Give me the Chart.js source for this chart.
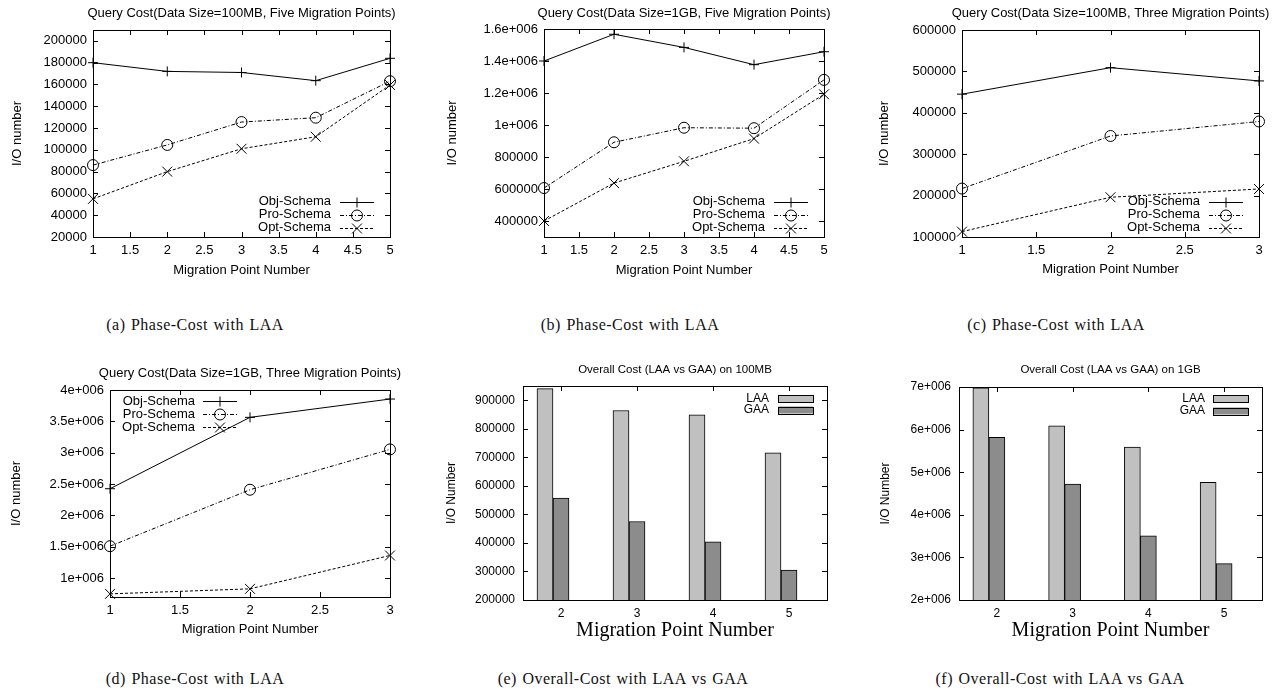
<!DOCTYPE html>
<html>
<head>
<meta charset="utf-8">
<script src="https://cdn.jsdelivr.net/npm/chart.js@4.4.1/dist/chart.umd.min.js"></script>
<style>
  body { margin: 0; background: #fff; width: 1278px; height: 700px; position: relative; overflow: hidden; }
  canvas { position: absolute; }
  .cap { position: absolute; font-family: "Liberation Serif", "DejaVu Serif", serif; font-size: 16px; letter-spacing: 0.5px; word-spacing: 1px; color: #111; white-space: nowrap; transform: translate(-50%, -50%); }
</style>
</head>
<body>
<canvas id="cA" width="426" height="300" style="left:0;top:0"></canvas>
<canvas id="cB" width="426" height="300" style="left:426px;top:0"></canvas>
<canvas id="cC" width="426" height="300" style="left:852px;top:0"></canvas>
<canvas id="cD" width="426" height="310" style="left:0;top:340px"></canvas>
<canvas id="cE" width="426" height="310" style="left:426px;top:340px"></canvas>
<canvas id="cF" width="426" height="310" style="left:852px;top:340px"></canvas>

<div class="cap" style="left:195px;top:325px">(a) Phase-Cost with LAA</div>
<div class="cap" style="left:630px;top:325px">(b) Phase-Cost with LAA</div>
<div class="cap" style="left:1056px;top:325px">(c) Phase-Cost with LAA</div>
<div class="cap" style="left:195px;top:679px">(d) Phase-Cost with LAA</div>
<div class="cap" style="left:623px;top:679px">(e) Overall-Cost with LAA vs GAA</div>
<div class="cap" style="left:1060px;top:679px">(f) Overall-Cost with LAA vs GAA</div>

<script>
// migration points on the x axis
const xFive = [1, 2, 3, 4, 5];
const xThree = [1, 2, 3];
const xTicksFive = [1, 1.5, 2, 2.5, 3, 3.5, 4, 4.5, 5];
const xTicksThree = [1, 1.5, 2, 2.5, 3];

// (a) 100MB, five points
const objA = [180000, 172000, 171000, 163500, 184000];
const proA = [86000, 104500, 125500, 129500, 163000];
const optA = [55000, 80000, 101000, 112000, 159500];
const yTicksA = [20000, 40000, 60000, 80000, 100000, 120000, 140000, 160000, 180000, 200000];

// (b) 1GB, five points
const objB = [1400000, 1567000, 1485000, 1377000, 1458000];
const proB = [606000, 892000, 983000, 980000, 1282000];
const optB = [400000, 637000, 773000, 915000, 1192000];
const yTicksB = [400000, 600000, 800000, 1000000, 1200000, 1400000, 1600000];

// (c) 100MB, three points
const objC = [445000, 509000, 477000];
const proC = [217000, 344000, 379000];
const optC = [113000, 196000, 216000];
const yTicksC = [100000, 200000, 300000, 400000, 500000, 600000];

// (d) 1GB, three points
const objD = [2426000, 3564000, 3856000];
const proD = [1510000, 2410000, 3053000];
const optD = [750000, 830000, 1362000];
const yTicksD = [1000000, 1500000, 2000000, 2500000, 3000000, 3500000, 4000000];

// (e), (f) overall cost
const migPoints = ['2', '3', '4', '5'];
const laa100 = [941000, 864000, 849000, 716000];
const gaa100 = [557000, 475000, 404000, 305000];
const yTicksE = [200000, 300000, 400000, 500000, 600000, 700000, 800000, 900000];
const laa1g = [6980000, 6090000, 5590000, 4760000];
const gaa1g = [5820000, 4720000, 3505000, 2855000];
const yTicksF = [2000000, 3000000, 4000000, 5000000, 6000000, 7000000];

const SANS = '"Liberation Sans", Arial, sans-serif';
const SERIF = '"Liberation Serif", "Times New Roman", serif';

// gnuplot style %g labels: 1.6e+006
function gfmt(v) {
  if (Math.abs(v) >= 1e6) {
    const e = Math.floor(Math.log10(Math.abs(v)));
    const m = +(v / Math.pow(10, e)).toPrecision(6);
    return m + 'e+' + String(e).padStart(3, '0');
  }
  return String(v);
}

const pts = (xs, ys) => xs.map((x, i) => ({ x: x, y: ys[i] }));

// frame, inward ticks, title and gnuplot-like legend
const gp = {
  id: 'gp',
  beforeDatasetsDraw(chart) {
    const { ctx, chartArea: a, scales } = chart;
    ctx.save();
    ctx.strokeStyle = '#000';
    ctx.lineWidth = 1;
    ctx.beginPath();
    const t = 5;
    scales.y.ticks.forEach(tk => {
      const y = Math.round(scales.y.getPixelForValue(tk.value)) + 0.5;
      ctx.moveTo(a.left, y); ctx.lineTo(a.left + t, y);
      ctx.moveTo(a.right, y); ctx.lineTo(a.right - t, y);
    });
    scales.x.ticks.forEach((tk, i) => {
      const x = Math.round(scales.x.getPixelForTick(i)) + 0.5;
      ctx.moveTo(x, a.bottom); ctx.lineTo(x, a.bottom - t);
      ctx.moveTo(x, a.top); ctx.lineTo(x, a.top + t);
    });
    ctx.stroke();
    ctx.strokeRect(Math.round(a.left) + 0.5, Math.round(a.top) + 0.5,
      Math.round(a.right - a.left), Math.round(a.bottom - a.top));
    ctx.restore();
  },
  afterDraw(chart, args, o) {
    const { ctx, chartArea: a } = chart;
    ctx.save();
    ctx.fillStyle = '#000';
    ctx.font = o.titleSize + 'px ' + SANS;
    ctx.textAlign = 'center';
    ctx.textBaseline = 'middle';
    ctx.fillText(o.title, (a.left + a.right) / 2, o.titleY);

    const L = o.legend;
    ctx.font = L.size + 'px ' + SANS;
    chart.data.datasets.filter(ds => ds.label).forEach((ds, i) => {
      const y = (L.fromBottom ? a.bottom : a.top) + L.y0 + i * L.dy;
      const base = L.fromLeft ? a.left : a.right;
      const tx = base + L.textX, x0 = base + L.x0, x1 = base + L.x1;
      ctx.fillStyle = '#000';
      ctx.textAlign = 'right';
      ctx.fillText(ds.label, tx, y);
      ctx.strokeStyle = '#000';
      ctx.lineWidth = 1;
      if (L.kind === 'box') {
        ctx.fillStyle = ds.backgroundColor;
        ctx.fillRect(x0, y - 3.5, x1 - x0, 7);
        ctx.strokeRect(x0 + 0.5, Math.round(y - 3.5) + 0.5, x1 - x0, 7);
      } else {
        ctx.setLineDash(ds.borderDash || []);
        ctx.beginPath();
        ctx.moveTo(x0, Math.round(y) + 0.5);
        ctx.lineTo(x1, Math.round(y) + 0.5);
        ctx.stroke();
        ctx.setLineDash([]);
        ctx.fillStyle = 'rgba(0,0,0,0)';
        Chart.helpers.drawPoint(ctx, { pointStyle: ds.pointStyle, radius: ds.pointRadius, rotation: 0, borderWidth: 1 },
          (x0 + x1) / 2, Math.round(y) + 0.5);
      }
    });
    ctx.restore();
  }
};

// place chart area at exact spot inside its canvas
function layoutFor(box, area) {
  return {
    padding: { left: 0, top: area.t - box.top, right: box.left + box.w - area.r, bottom: 0 },
    yWidth: area.l - box.left,
    xHeight: box.top + box.h - area.b
  };
}

function lineSeries(xs, obj, pro, opt) {
  return [
    { label: 'Obj-Schema', data: pts(xs, obj), pointStyle: 'cross', pointRadius: 5, borderDash: [] },
    { label: 'Pro-Schema', data: pts(xs, pro), pointStyle: 'circle', pointRadius: 5.5, borderDash: [4, 2, 1, 2] },
    { label: 'Opt-Schema', data: pts(xs, opt), pointStyle: 'crossRot', pointRadius: 7, borderDash: [3, 2] }
  ].map(d => Object.assign(d, {
    borderColor: '#000', borderWidth: 1, pointBorderColor: '#000', pointBorderWidth: 1,
    pointBackgroundColor: 'rgba(0,0,0,0)', tension: 0, clip: false
  }));
}

function makeLine(id, box, area, cfg) {
  const lay = layoutFor(box, area);
  new Chart(document.getElementById(id), {
    type: 'line',
    data: { datasets: lineSeries(cfg.xs, cfg.obj, cfg.pro, cfg.opt) },
    options: {
      responsive: false, animation: false, devicePixelRatio: 1,
      layout: { padding: lay.padding },
      plugins: {
        legend: { display: false }, tooltip: { enabled: false },
        gp: { title: cfg.title, titleY: cfg.titleY, titleSize: 13, legend: cfg.legend }
      },
      scales: {
        x: {
          type: 'linear', min: cfg.xs[0], max: cfg.xs[cfg.xs.length - 1],
          afterBuildTicks: s => { s.ticks = cfg.xTicks.map(v => ({ value: v })); },
          afterFit: s => { s.height = lay.xHeight; },
          ticks: { callback: v => String(v), color: '#000', font: { family: SANS, size: 13 }, padding: 6, maxRotation: 0 },
          grid: { display: false, drawTicks: false, tickLength: 0 },
          border: { display: false },
          title: { display: true, text: 'Migration Point Number', color: '#000', font: { family: SANS, size: 13 }, padding: { top: 0, bottom: cfg.xTitlePad } }
        },
        y: {
          min: cfg.yMin, max: cfg.yMax,
          afterBuildTicks: s => { s.ticks = cfg.yTicks.map(v => ({ value: v })); },
          afterFit: s => { s.width = lay.yWidth; },
          ticks: { callback: v => gfmt(v), color: '#000', font: { family: SANS, size: 13 }, padding: 6 },
          grid: { display: false, drawTicks: false, tickLength: 0 },
          border: { display: false },
          title: { display: true, text: 'I/O number', color: '#000', font: { family: SANS, size: 13 }, padding: { top: cfg.yTitlePad, bottom: 0 } }
        }
      }
    },
    plugins: [gp]
  });
}

function makeBar(id, box, area, cfg) {
  const lay = layoutFor(box, area);
  new Chart(document.getElementById(id), {
    type: 'bar',
    data: {
      labels: migPoints,
      datasets: [
        { label: 'LAA', data: cfg.laa, backgroundColor: '#c0c0c0' },
        { label: 'GAA', data: cfg.gaa, backgroundColor: '#8c8c8c' },
        // empty third slot: gnuplot leaves a gap so GAA sits on the tick
        { label: '', data: migPoints.map(() => null), backgroundColor: 'rgba(0,0,0,0)' }
      ].map(d => Object.assign(d, { borderColor: '#000', borderWidth: 1, borderSkipped: false, barThickness: 16 }))
    },
    options: {
      responsive: false, animation: false, devicePixelRatio: 1,
      layout: { padding: lay.padding },
      plugins: {
        legend: { display: false }, tooltip: { enabled: false },
        gp: { title: cfg.title, titleY: cfg.titleY, titleSize: 11.5, legend: cfg.legend }
      },
      scales: {
        x: {
          afterFit: s => { s.height = lay.xHeight; },
          ticks: { color: '#000', font: { family: SANS, size: 12 }, padding: 6 },
          grid: { display: false, drawTicks: false, tickLength: 0 },
          border: { display: false },
          title: { display: true, text: 'Migration Point Number', color: '#000', font: { family: SERIF, size: 20 }, padding: { top: 0, bottom: 7 } }
        },
        y: {
          min: cfg.yMin, max: cfg.yMax,
          afterBuildTicks: s => { s.ticks = cfg.yTicks.map(v => ({ value: v })); },
          afterFit: s => { s.width = lay.yWidth; },
          ticks: { callback: v => gfmt(v), color: '#000', font: { family: SANS, size: 12 }, padding: 8 },
          grid: { display: false, drawTicks: false, tickLength: 0 },
          border: { display: false },
          title: { display: true, text: 'I/O Number', color: '#000', font: { family: SANS, size: 12 }, padding: { top: cfg.yTitlePad, bottom: 0 } }
        }
      }
    },
    plugins: [gp]
  });
}

const legendBR = { size: 13, fromBottom: true, y0: -35.5, dy: 13, textX: -59, x0: -50, x1: -16 };

makeLine('cA', { left: 0, top: 0, w: 426, h: 300 }, { l: 93, t: 30, r: 390, b: 237 }, {
  xs: xFive, xTicks: xTicksFive, obj: objA, pro: proA, opt: optA,
  yMin: 20000, yMax: 210000, yTicks: yTicksA,
  title: 'Query Cost(Data Size=100MB, Five Migration Points)', titleY: 13,
  xTitlePad: 22, yTitlePad: 10, legend: legendBR
});
makeLine('cB', { left: 426, top: 0, w: 426, h: 300 }, { l: 544, t: 29, r: 824, b: 237 }, {
  xs: xFive, xTicks: xTicksFive, obj: objB, pro: proB, opt: optB,
  yMin: 300000, yMax: 1600000, yTicks: yTicksB,
  title: 'Query Cost(Data Size=1GB, Five Migration Points)', titleY: 13,
  xTitlePad: 22, yTitlePad: 19, legend: legendBR
});
makeLine('cC', { left: 852, top: 0, w: 426, h: 300 }, { l: 962, t: 30, r: 1259, b: 237 }, {
  xs: xThree, xTicks: xTicksThree, obj: objC, pro: proC, opt: optC,
  yMin: 100000, yMax: 600000, yTicks: yTicksC,
  title: 'Query Cost(Data Size=100MB, Three Migration Points)', titleY: 13,
  xTitlePad: 23, yTitlePad: 25, legend: legendBR
});
makeLine('cD', { left: 0, top: 340, w: 426, h: 310 }, { l: 110, t: 390, r: 390, b: 597 }, {
  xs: xThree, xTicks: xTicksThree, obj: objD, pro: proD, opt: optD,
  yMin: 700000, yMax: 4000000, yTicks: yTicksD,
  title: 'Query Cost(Data Size=1GB, Three Migration Points)', titleY: 33,
  xTitlePad: 13, yTitlePad: 9,
  legend: { size: 13, fromLeft: true, y0: 11, dy: 13, textX: 85, x0: 93, x1: 127 }
});
makeBar('cE', { left: 426, top: 340, w: 426, h: 310 }, { l: 523, t: 386, r: 827, b: 600 }, {
  laa: laa100, gaa: gaa100, yMin: 200000, yMax: 950000, yTicks: yTicksE,
  title: 'Overall Cost (LAA vs GAA) on 100MB', titleY: 30, yTitlePad: 18,
  legend: { size: 12, kind: 'box', y0: 12.5, dy: 11.5, textX: -58, x0: -49, x1: -14 }
});
makeBar('cF', { left: 852, top: 340, w: 426, h: 310 }, { l: 959, t: 387, r: 1262, b: 600 }, {
  laa: laa1g, gaa: gaa1g, yMin: 2000000, yMax: 7000000, yTicks: yTicksF,
  title: 'Overall Cost (LAA vs GAA) on 1GB', titleY: 30, yTitlePad: 26,
  legend: { size: 12, kind: 'box', y0: 11.5, dy: 12.5, textX: -57, x0: -49, x1: -14 }
});
</script>
</body>
</html>
